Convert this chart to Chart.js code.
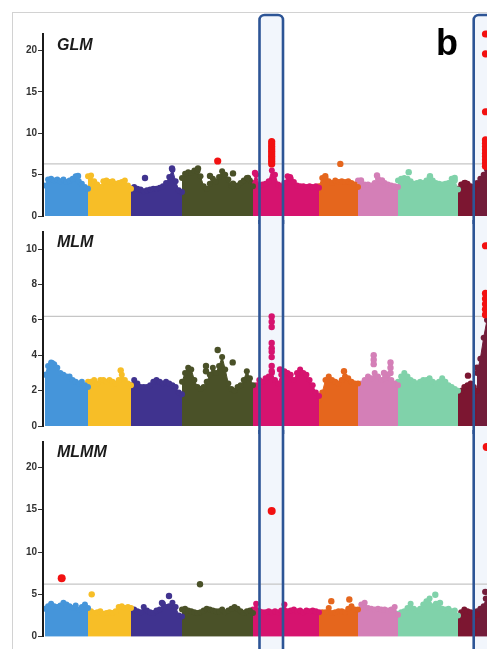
<!DOCTYPE html>
<html>
<head>
<meta charset="utf-8">
<script src="https://cdn.jsdelivr.net/npm/chart.js@4.4.0/dist/chart.umd.min.js"></script>
<style>
  html, body { margin: 0; padding: 0; background: #fff; }
  body { width: 487px; height: 649px; position: relative; overflow: hidden; }
  .frame { position: absolute; left: 12px; top: 12px; width: 480px; height: 640px;
           border-top: 1px solid #d2d2d2; border-left: 1px solid #d2d2d2; }
  canvas { position: absolute; left: 0; }
</style>
</head>
<body>
<div class="frame"></div>
<canvas id="glm" width="487" height="224" style="top:0px"></canvas>
<canvas id="mlm" width="487" height="214" style="top:220px"></canvas>
<canvas id="mlmm" width="487" height="219" style="top:430px"></canvas>
<script>
// chromosomes (positions in arbitrary genome units)
var chrNames = ['1', '2', '3', '4', '5', '6', '7', '8', '9', '10'];
var chrStart = [0, 43, 86, 137, 208, 274, 313, 353, 413, 432];
var chrEnd = [43, 86, 137, 208, 274, 313, 353, 413, 432, 442];
var chrColors = ['#4595da', '#f7be27', '#40338f', '#4a5128', '#d6136f', '#e5661d', '#d47fb7', '#80d2aa', '#7c1631', '#721c3a'];
var hitColor = '#f21111';

// highlighted regions (genome units)
var boxes = [[214.5, 238], [428.7, 470]];

// -log10(p) thresholds
var glmLine = 6.3, mlmLine = 6.2, mlmmLine = 6.2;

// GLM: upper edge of the dense SNP cloud per chromosome
var glmTop = [
  [3.7, 4.4, 4.5, 4.3, 4.4, 4.2, 4.4, 4.1, 4.3, 4.5, 4.8, 4.2, 3.9, 3.5, 3.3],
  [4.8, 4.9, 4.2, 3.8, 3.5, 4.2, 4.3, 4.1, 4.2, 3.9, 4.0, 4.1, 4.3, 3.7, 3.3],
  [3.3, 3.5, 3.3, 3.2, 3.0, 3.1, 3.2, 3.3, 3.3, 3.4, 3.6, 4.0, 4.7, 5.6, 4.2, 3.1, 2.9],
  [4.6, 5.1, 5.3, 5.2, 5.5, 5.4, 4.8, 3.6, 3.3, 3.9, 4.5, 4.2, 4.7, 5.4, 5.0, 4.4, 3.7, 3.5, 3.7, 4.0, 4.3, 4.6, 4.3, 3.6],
  [4.0, 5.0, 3.6, 3.8, 3.9, 4.2, 5.5, 5.0, 3.8, 3.6, 4.0, 4.8, 4.5, 4.1, 3.7, 3.6, 3.6, 3.5, 3.6, 3.5, 3.6, 3.4],
  [3.6, 4.6, 4.5, 4.2, 4.0, 4.3, 4.1, 4.2, 4.1, 4.2, 4.0, 3.8, 3.5],
  [4.3, 3.9, 3.8, 3.8, 3.7, 4.0, 4.5, 4.2, 4.0, 3.8, 3.7, 3.6, 3.5],
  [4.3, 4.5, 4.6, 4.5, 4.2, 3.9, 4.0, 4.1, 4.0, 4.3, 4.6, 4.3, 4.0, 3.9, 3.8, 3.9, 4.0, 4.5, 4.3, 3.2],
  [3.3, 3.8, 4.0, 3.9, 3.6, 3.4, 3.8],
  [4.0, 4.5, 5.0, 5.6]
];
// [chromosome index, position, -log10(p)]
var glmDots = [
  [0, 33, 4.85], [2, 100, 4.6], [2, 127, 5.75], [3, 153, 5.75], [3, 165, 4.85],
  [3, 188, 5.15], [3, 188, 3.9], [3, 203, 4.6], [4, 210, 5.2], [4, 245, 4.7],
  [5, 295.3, 6.3], [5, 280.3, 4.8], [6, 316, 4.3], [6, 332, 4.9], [6, 337, 4.3],
  [7, 363.7, 5.3], [7, 385, 4.8], [7, 409.7, 4.6], [8, 420, 4.0]
];
var glmHits = [
  [172.7, 6.65],
  [226.7, 6.3], [226.7, 6.6], [226.7, 6.9], [226.7, 7.2], [226.7, 7.5],
  [226.7, 7.8], [226.7, 8.1], [226.7, 8.4], [226.7, 8.7], [226.7, 9.0],
  [440.5, 22.0], [440.5, 19.6], [440.5, 12.6], [440.5, 9.2], [440.5, 8.8],
  [440.5, 8.4], [440.5, 8.0], [440.5, 7.6], [440.5, 7.2], [440.5, 6.8], [440.5, 6.4], [440.5, 6.0]
];

// MLM
var mlmTop = [
  [2.9, 3.4, 3.6, 3.5, 3.3, 3.0, 2.9, 2.8, 2.8, 2.6, 2.5, 2.4, 2.5, 2.3, 2.2],
  [2.5, 2.5, 2.6, 2.4, 2.6, 2.6, 2.5, 2.6, 2.5, 2.4, 2.6, 2.9, 2.6, 2.4, 2.3],
  [2.3, 2.6, 2.4, 2.2, 2.2, 2.2, 2.3, 2.5, 2.6, 2.5, 2.4, 2.5, 2.4, 2.3, 2.2, 1.9, 1.8],
  [2.5, 3.0, 3.3, 3.2, 2.6, 2.2, 2.1, 2.2, 2.5, 2.9, 3.3, 3.0, 3.4, 3.9, 3.2, 2.4, 2.1, 2.0, 2.2, 2.3, 2.6, 3.1, 2.7, 2.3],
  [2.0, 2.3, 2.6, 2.5, 2.7, 2.8, 3.0, 2.6, 2.4, 2.9, 3.1, 3.0, 2.9, 2.6, 3.0, 3.2, 3.0, 2.9, 2.6, 2.3, 1.9, 1.7],
  [1.5, 1.9, 2.6, 2.8, 2.6, 2.5, 2.4, 2.6, 2.8, 2.7, 2.5, 2.4, 2.4],
  [2.1, 2.4, 2.6, 2.8, 2.7, 3.0, 2.8, 2.6, 2.7, 2.9, 2.6, 2.4, 2.3],
  [2.5, 2.8, 3.0, 2.8, 2.6, 2.5, 2.4, 2.5, 2.6, 2.6, 2.7, 2.5, 2.4, 2.5, 2.7, 2.5, 2.3, 2.2, 2.1, 2.0],
  [1.8, 2.0, 2.2, 2.3, 2.4, 2.2, 2.0],
  [3.0, 3.8, 5.0, 6.0]
];
var mlmDots = [
  [0, 7, 3.55], [1, 75.7, 3.15], [3, 161, 3.4], [3, 161, 3.1], [3, 172.7, 4.3], [3, 187.7, 3.6],
  [4, 226.7, 6.2], [4, 226.7, 5.9], [4, 226.7, 5.6], [4, 226.7, 4.7], [4, 226.7, 4.4],
  [4, 226.7, 4.2], [4, 226.7, 3.9], [4, 226.7, 3.4], [4, 226.7, 3.1], [4, 235, 3.2],
  [5, 299, 3.1], [6, 328.7, 4.0], [6, 328.7, 3.75], [6, 328.7, 3.5], [6, 339, 3.0],
  [6, 345.5, 3.6], [6, 345.5, 3.3], [6, 345.5, 3.0], [8, 423, 2.85], [9, 432, 3.3]
];
var mlmHits = [
  [440.5, 10.2], [440.5, 7.5], [440.5, 7.2], [440.5, 6.9], [440.5, 6.6], [440.5, 6.3]
];

// MLMM
var mlmmTop = [
  [3.3, 3.6, 3.9, 3.6, 3.5, 3.7, 4.0, 3.8, 3.6, 3.4, 3.7, 3.2, 3.5, 3.8, 3.4],
  [2.9, 3.0, 2.8, 2.9, 3.0, 2.7, 2.8, 2.9, 2.8, 3.0, 3.5, 3.6, 3.4, 3.5, 3.4],
  [3.3, 3.2, 3.0, 2.9, 3.5, 3.1, 2.9, 2.8, 3.1, 3.2, 3.9, 3.5, 3.6, 4.0, 3.5, 2.5, 2.4],
  [3.2, 3.3, 3.1, 3.0, 2.9, 2.8, 2.9, 3.1, 3.3, 3.2, 3.1, 3.0, 3.0, 3.2, 2.9, 3.1, 3.3, 3.5, 3.3, 3.0, 2.8, 3.0, 3.1, 2.8],
  [3.2, 3.9, 3.0, 2.9, 2.9, 3.0, 2.9, 3.0, 2.9, 3.1, 3.8, 3.0, 3.1, 3.2, 3.0, 3.1, 2.9, 3.1, 3.0, 3.1, 3.0, 2.9],
  [2.8, 2.9, 2.9, 3.4, 2.8, 2.9, 3.0, 3.0, 2.9, 3.3, 3.6, 3.2, 3.2],
  [3.0, 3.8, 4.0, 3.4, 3.3, 3.2, 3.3, 3.2, 3.2, 3.1, 3.2, 3.5, 2.6],
  [2.7, 2.9, 3.0, 3.4, 3.9, 3.3, 3.1, 3.3, 3.8, 4.2, 4.5, 3.6, 3.9, 3.4, 3.3, 3.2, 3.3, 3.0, 3.1, 2.5],
  [2.0, 2.9, 3.2, 3.0, 2.9, 2.8, 2.6],
  [3.0, 3.3, 3.6, 3.9]
];
var mlmmDots = [
  [1, 46.7, 5.0], [2, 124, 4.8], [2, 117, 4.0], [3, 155, 6.2],
  [5, 286.3, 4.2], [5, 304.3, 4.4], [7, 390.3, 4.95], [7, 395, 4.0],
  [9, 440.3, 5.3], [9, 441, 4.5]
];
var mlmmHits = [[16.7, 6.9], [226.7, 14.85], [441.7, 22.4]];

// highlight boxes + panel labels
var panelPlugin = {
  id: 'panel',
  beforeDatasetsDraw: function (chart, args, opts) {
    var ctx = chart.ctx, xs = chart.scales.x;
    ctx.save();
    ctx.fillStyle = '#f2f6fc';
    boxes.forEach(function (b) {
      var l = xs.getPixelForValue(b[0]), r = xs.getPixelForValue(b[1]);
      ctx.fillRect(l, opts.boxTop, r - l, chart.height - opts.boxTop);
    });
    ctx.restore();
  },
  afterDatasetsDraw: function (chart, args, opts) {
    var ctx = chart.ctx, xs = chart.scales.x;
    ctx.save();
    ctx.strokeStyle = '#2d5596';
    ctx.lineWidth = 2.6;
    boxes.forEach(function (b) {
      var l = xs.getPixelForValue(b[0]), r = xs.getPixelForValue(b[1]);
      var t = opts.boxTop, rad = 5, bot = chart.height + 2;
      ctx.beginPath();
      ctx.moveTo(l, bot);
      ctx.lineTo(l, t + rad);
      ctx.arcTo(l, t, l + rad, t, rad);
      ctx.lineTo(r - rad, t);
      ctx.arcTo(r, t, r, t + rad, rad);
      ctx.lineTo(r, bot);
      ctx.stroke();
    });
    ctx.fillStyle = '#1b1b1b';
    ctx.font = 'italic bold 16px Arial, "Liberation Sans", sans-serif';
    ctx.fillText(opts.title, 57, opts.titleY);
    if (opts.letter) {
      ctx.fillStyle = '#000';
      ctx.font = 'bold 36px Arial, "Liberation Sans", sans-serif';
      ctx.fillText(opts.letter, 436, 55);
    }
    ctx.restore();
  }
};

function envelopeSets(tops) {
  return tops.map(function (vals, c) {
    var step = (chrEnd[c] - chrStart[c]) / (vals.length - 1);
    return {
      type: 'line',
      label: 'chr' + chrNames[c],
      data: vals.map(function (v, i) { return { x: chrStart[c] + i * step, y: v }; }),
      borderColor: chrColors[c],
      backgroundColor: chrColors[c],
      borderWidth: 1,
      fill: 'origin',
      tension: 0,
      pointRadius: 3,
      pointBorderWidth: 0,
      pointBackgroundColor: chrColors[c],
      clip: false,
      order: 2
    };
  });
}

function makePanel(id, title, titleY, letter, tops, dots, hits, line, max, step, pad, boxTop, hitRadius) {
  var sets = [{
    type: 'line',
    label: 'threshold',
    data: [{ x: -2, y: line }, { x: 442, y: line }],
    borderColor: '#c6c6c6',
    borderWidth: 1.2,
    pointRadius: 0,
    order: 3
  }].concat(envelopeSets(tops));
  sets.push({
    label: 'SNPs',
    data: dots.map(function (d) { return { x: d[1], y: d[2] }; }),
    pointBackgroundColor: dots.map(function (d) { return chrColors[d[0]]; }),
    pointBorderWidth: 0,
    pointRadius: 3.2,
    clip: false,
    order: 1
  });
  sets.push({
    label: 'significant',
    data: hits.map(function (h) { return { x: h[0], y: h[1] }; }),
    pointBackgroundColor: hitColor,
    pointBorderWidth: 0,
    pointRadius: hitRadius,
    clip: false,
    order: 0
  });

  return new Chart(document.getElementById(id).getContext('2d'), {
    type: 'scatter',
    data: { datasets: sets },
    options: {
      responsive: false,
      animation: false,
      events: [],
      layout: { padding: pad, autoPadding: false },
      plugins: {
        legend: { display: false },
        tooltip: { enabled: false },
        panel: { title: title, titleY: titleY, letter: letter, boxTop: boxTop }
      },
      scales: {
        x: { type: 'linear', min: -2, max: 442, display: false },
        y: {
          min: 0, max: max,
          ticks: { stepSize: step, color: '#333', padding: 1,
                   font: { family: 'Arial, "Liberation Sans", sans-serif', size: 10, weight: 'bold' } },
          grid: { drawOnChartArea: false, drawTicks: true, tickLength: 5, color: '#333', lineWidth: 1 },
          border: { display: true, color: '#1b1b1b', width: 2, z: 1 },
          afterBuildTicks: function (s) {
            s.ticks = s.ticks.filter(function (t) { return t.value % step === 0; });
          },
          afterFit: function (s) { s.width = 43; }
        }
      }
    },
    plugins: [panelPlugin]
  });
}

makePanel('glm', 'GLM', 50, 'b', glmTop, glmDots, glmHits, glmLine, 22, 5,
  { top: 34, bottom: 8, left: 0, right: 0 }, 15, 3.6);
makePanel('mlm', 'MLM', 26.7, '', mlmTop, mlmDots, mlmHits, mlmLine, 11, 2,
  { top: 11.6, bottom: 8, left: 0, right: 0 }, -10, 3.6);
makePanel('mlmm', 'MLMM', 26.7, '', mlmmTop, mlmmDots, mlmmHits, mlmmLine, 23, 5,
  { top: 12, bottom: 12.3, left: 0, right: 0 }, -10, 4);
</script>
</body>
</html>
